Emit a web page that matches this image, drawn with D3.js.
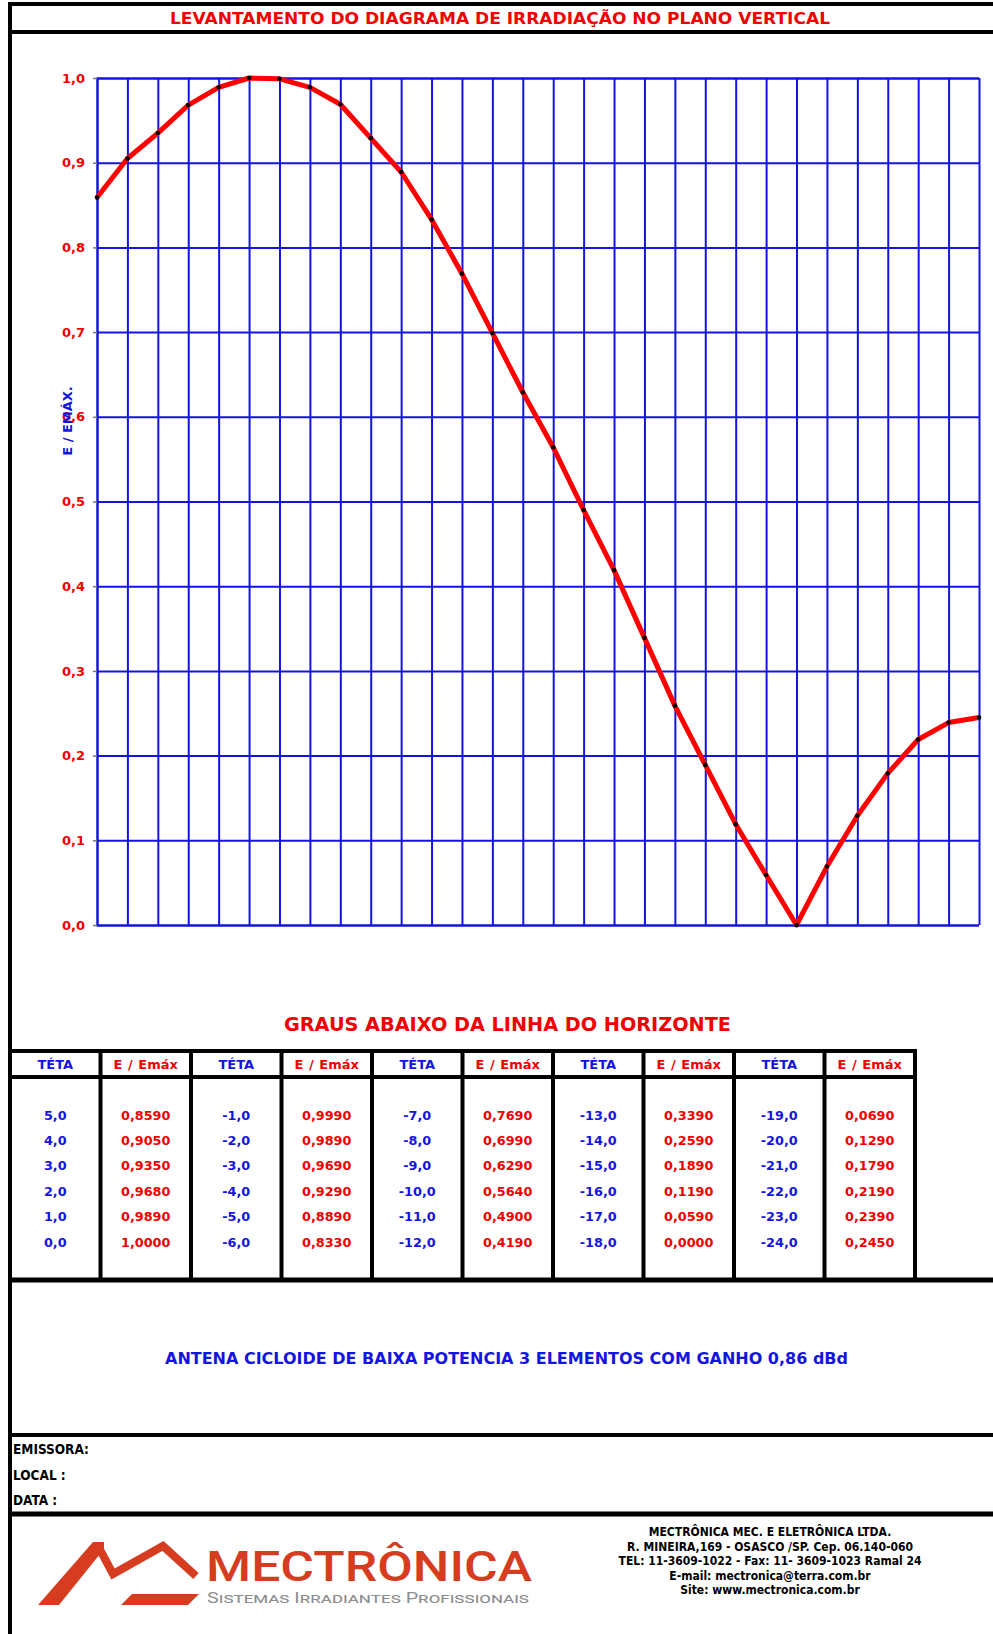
<!DOCTYPE html>
<html>
<head>
<meta charset="utf-8">
<script src="https://cdn.jsdelivr.net/npm/d3@7"></script>
<style>
  body { margin: 0; background: #fff; }
  svg { display: block; }
  text { font-family: "DejaVu Sans", Verdana, sans-serif; font-weight: bold; }
</style>
</head>
<body>
<script>
// dados do diagrama (graus abaixo do horizonte / E / Emáx)
const teta = [5, 4, 3, 2, 1, 0, -1, -2, -3, -4, -5, -6, -7, -8, -9, -10, -11, -12,
    -13, -14, -15, -16, -17, -18, -19, -20, -21, -22, -23, -24];
const eEmax = [0.859, 0.905, 0.935, 0.968, 0.989, 1.0, 0.999, 0.989, 0.969, 0.929, 0.889, 0.833,
    0.769, 0.699, 0.629, 0.564, 0.490, 0.419, 0.339, 0.259, 0.189, 0.119, 0.059, 0.0,
    0.069, 0.129, 0.179, 0.219, 0.239, 0.245];
const yTicks = [0, 0.1, 0.2, 0.3, 0.4, 0.5, 0.6, 0.7, 0.8, 0.9, 1.0];
const headers = ["TÉTA", "E / Emáx"];
const infoLines = [
    "MECTRÔNICA MEC. E ELETRÔNICA LTDA.",
    "R. MINEIRA,169 - OSASCO /SP. Cep. 06.140-060",
    "TEL: 11-3609-1022 - Fax: 11- 3609-1023 Ramal 24",
    "E-mail: mectronica@terra.com.br",
    "Site: www.mectronica.com.br"
];
const fieldLabels = ["EMISSORA:", "LOCAL  :", "DATA  :"];

const W = 993, H = 1634;
const RED = "#f00000", BLUE = "#1414e0", LOGO = "#d63c20";

const svg = d3.select("body").append("svg")
    .attr("width", W)
    .attr("height", H);

const comma = v => v.replace(".", ",");

// ---- moldura ----
const hLine = (y, x1, x2, w) => svg.append("line")
    .attr("x1", x1).attr("x2", x2).attr("y1", y).attr("y2", y)
    .attr("stroke", "#000").attr("stroke-width", w);

svg.append("line").attr("x1", 10).attr("x2", 10).attr("y1", 2).attr("y2", H)
    .attr("stroke", "#000").attr("stroke-width", 4);
hLine(4, 8, W, 4);
hLine(32, 10, W, 4);
hLine(1280, 10, W, 5);
hLine(1435, 10, W, 4);
hLine(1514, 10, W, 5);

// título
svg.append("text")
    .attr("x", 170).attr("y", 24)
    .attr("textLength", 660).attr("lengthAdjust", "spacingAndGlyphs")
    .attr("fill", RED).style("font-size", "16.5px")
    .text("LEVANTAMENTO  DO DIAGRAMA  DE  IRRADIAÇÃO NO  PLANO  VERTICAL");

// ---- gráfico ----
const x = d3.scaleLinear().domain([5, -24]).range([97, 979]);
const y = d3.scaleLinear().domain([0, 1]).range([925, 78]);

// grade vertical
svg.append("g")
    .attr("transform", `translate(0,${y(0)})`)
    .call(d3.axisBottom(x).tickValues(teta).tickSize(-(y(0) - y(1))).tickFormat(""))
    .call(g => g.select(".domain").remove())
    .call(g => g.selectAll(".tick line").attr("stroke", BLUE).attr("stroke-width", 2));

// grade horizontal + rótulos
svg.append("g")
    .attr("transform", `translate(${x(5)},0)`)
    .call(d3.axisLeft(y).tickValues(yTicks).tickSize(-(x(-24) - x(5))).tickPadding(12)
        .tickFormat(d => comma(d.toFixed(1))))
    .call(g => g.select(".domain").attr("stroke", BLUE).attr("stroke-width", 2))
    .call(g => g.selectAll(".tick line").attr("stroke", BLUE).attr("stroke-width", 2))
    .call(g => g.selectAll(".tick text").attr("fill", RED)
        .style("font-size", "13px").style("font-family", "DejaVu Sans").style("font-weight", "bold"));

// marcas curtas à esquerda do eixo
svg.append("g")
    .attr("transform", `translate(${x(5)},0)`)
    .call(d3.axisLeft(y).tickValues(yTicks).tickSize(4).tickFormat(""))
    .call(g => g.select(".domain").remove())
    .call(g => g.selectAll(".tick line").attr("stroke", "#777").attr("stroke-width", 1.5));

// título do eixo y
svg.append("text")
    .attr("transform", "translate(72,421) rotate(-90)")
    .attr("text-anchor", "middle")
    .attr("fill", BLUE).style("font-size", "13px")
    .text("E / EMÁX.");

const pts = teta.map((t, i) => [t, eEmax[i]]);

svg.append("path")
    .datum(pts)
    .attr("fill", "none")
    .attr("stroke", "#ff0000")
    .attr("stroke-width", 5)
    .attr("stroke-linejoin", "round")
    .attr("d", d3.line().x(d => x(d[0])).y(d => y(d[1])));

svg.selectAll(".pt")
    .data(pts)
    .join("circle")
    .attr("class", "pt")
    .attr("cx", d => x(d[0]))
    .attr("cy", d => y(d[1]))
    .attr("r", 2.3)
    .attr("fill", "#000");

svg.append("text")
    .attr("x", 284).attr("y", 1031)
    .attr("textLength", 447).attr("lengthAdjust", "spacingAndGlyphs")
    .attr("fill", RED).style("font-size", "19.5px")
    .text("GRAUS ABAIXO DA LINHA DO HORIZONTE");

// ---- tabela ----
const colX = d3.scaleLinear().domain([0, 10]).range([10, 915]);
const rowY = d3.scaleLinear().domain([0, 5]).range([1115, 1242]);

hLine(1051, 8, 917, 4);
hLine(1077, 8, 917, 4);
d3.range(1, 11).forEach(c => svg.append("line")
    .attr("x1", colX(c)).attr("x2", colX(c)).attr("y1", 1049).attr("y2", 1280)
    .attr("stroke", "#000").attr("stroke-width", 4));

d3.range(10).forEach(c => {
    svg.append("text")
        .attr("x", (colX(c) + colX(c + 1)) / 2).attr("y", 1068.5)
        .attr("text-anchor", "middle")
        .attr("fill", c % 2 ? RED : BLUE).style("font-size", "13px")
        .style("word-spacing", "1px")
        .text(headers[c % 2]);
});

teta.forEach((t, i) => {
    const grp = Math.floor(i / 6), r = i % 6;
    svg.append("text")
        .attr("x", (colX(grp * 2) + colX(grp * 2 + 1)) / 2).attr("y", rowY(r) + 4.5)
        .attr("text-anchor", "middle").attr("fill", BLUE).style("font-size", "12.8px")
        .text(comma(t.toFixed(1)));
    svg.append("text")
        .attr("x", (colX(grp * 2 + 1) + colX(grp * 2 + 2)) / 2).attr("y", rowY(r) + 4.5)
        .attr("text-anchor", "middle").attr("fill", RED).style("font-size", "12.8px")
        .text(comma(eEmax[i].toFixed(4)));
});

// descrição da antena
svg.append("text")
    .attr("x", 165).attr("y", 1364)
    .attr("textLength", 683).attr("lengthAdjust", "spacingAndGlyphs")
    .attr("fill", BLUE).style("font-size", "16.5px")
    .text("ANTENA CICLOIDE DE BAIXA POTENCIA 3 ELEMENTOS COM GANHO 0,86 dBd");

fieldLabels.forEach((s, i) => svg.append("text")
    .attr("x", 13).attr("y", 1454 + i * 25.5)
    .attr("fill", "#000").style("font-size", "13.5px")
    .style("font-family", "DejaVu Sans Condensed, DejaVu Sans")
    .text(s));

// ---- rodapé / logo ----
svg.append("path")
    .attr("d", "M38,1605 L59,1605 L104,1549 L104,1542 L93,1542 Z")
    .attr("fill", LOGO);
svg.append("path")
    .attr("d", "M98,1546 L113,1574 L163,1546 L196,1576")
    .attr("fill", "none").attr("stroke", LOGO).attr("stroke-width", 8)
    .attr("stroke-linejoin", "miter");
svg.append("path")
    .attr("d", "M121,1605 L188,1605 L199,1594 L132,1594 Z")
    .attr("fill", LOGO);

svg.append("text")
    .attr("x", 206).attr("y", 1581)
    .attr("textLength", 326).attr("lengthAdjust", "spacingAndGlyphs")
    .attr("fill", LOGO)
    .style("font-family", "Roboto, Liberation Sans").style("font-weight", "500").style("font-size", "43px")
    .text("MECTRÔNICA");

svg.append("text")
    .attr("x", 207).attr("y", 1603)
    .attr("textLength", 322).attr("lengthAdjust", "spacingAndGlyphs")
    .attr("fill", "#8c8c8c")
    .style("font-family", "Roboto, Liberation Sans").style("font-weight", "400")
    .style("font-size", "14px").style("font-variant", "small-caps")
    .text("Sistemas Irradiantes Profissionais");

infoLines.forEach((s, i) => svg.append("text")
    .attr("x", 770).attr("y", 1536 + i * 14.6)
    .attr("text-anchor", "middle")
    .attr("fill", "#000").style("font-size", "12px")
    .style("font-family", "DejaVu Sans Condensed, DejaVu Sans")
    .text(s));
</script>
</body>
</html>
